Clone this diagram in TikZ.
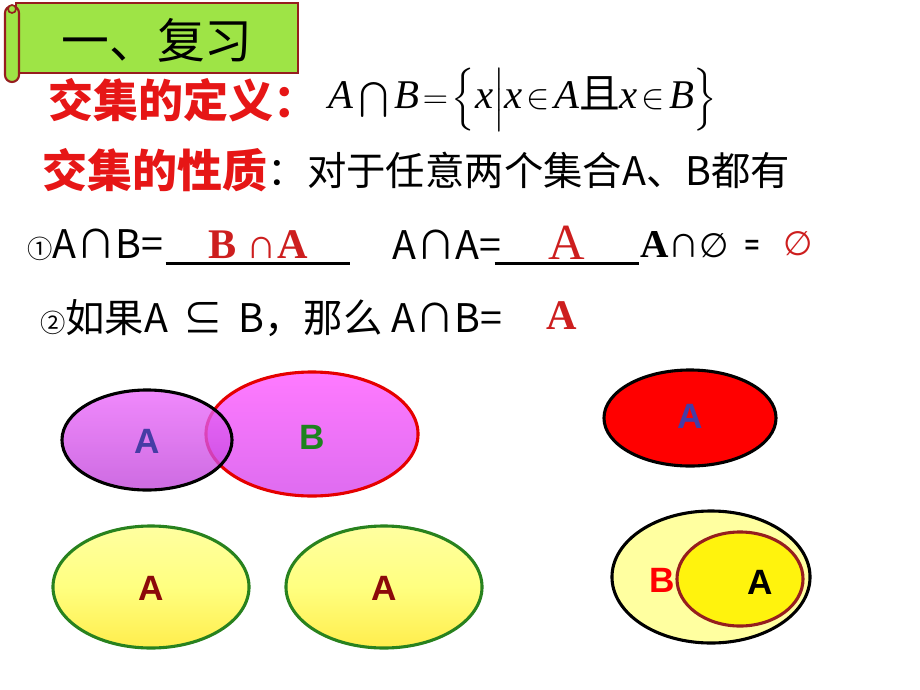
\documentclass[tikz,border=0pt]{standalone}
\usepackage{amsmath}
\usepackage{fontspec}
\setmainfont{Liberation Serif}
\newfontfamily\cjk{Noto Sans CJK SC}
\newfontfamily\arial{Liberation Sans}
\newfontfamily\dejavu{DejaVu Sans}
\usetikzlibrary{shapes.geometric,positioning}
\definecolor{scrollgreen}{RGB}{158,228,70}
\definecolor{scrollred}{RGB}{150,30,30}
\definecolor{headred}{RGB}{230,22,22}
\definecolor{ansred}{RGB}{205,30,30}
\definecolor{setblue}{RGB}{70,60,165}
\definecolor{setgreen}{RGB}{30,130,30}
\definecolor{ringgreen}{RGB}{40,130,30}
\definecolor{letterred}{RGB}{140,10,10}
\definecolor{palepink}{RGB}{255,122,255}
\definecolor{deeppink}{RGB}{222,108,240}
\definecolor{violettop}{RGB}{236,104,252}
\definecolor{violetbot}{RGB}{192,66,218}
\definecolor{paleyellow}{RGB}{255,255,160}

\begin{document}
\begin{tikzpicture}[x=0.025cm, y=-0.025cm, node distance=0pt,
    lefttext/.style={inner sep=0pt, anchor=west},
    venn/.style={ellipse, draw, line width=2.2pt, inner sep=0pt},
    vennletter/.style={font=\arial\bfseries\fontsize{25}{25}\selectfont},
    headfont/.style={font=\cjk\bfseries\fontsize{32}{32}\selectfont, text=headred},
    bodyfont/.style={font=\cjk\fontsize{28}{28}\selectfont},
    answer/.style={font=\bfseries\fontsize{30}{30}\selectfont, text=ansred}]
\fill[white] (0,0) rectangle (920,690);
\useasboundingbox (0,0) rectangle (920,690);

% scroll banner
\draw[fill=scrollgreen, draw=scrollred, line width=1.5pt] (16,3) rectangle (298,73);
\draw[fill=scrollgreen, draw=scrollred, line width=1.5pt, rounded corners=5pt] (5,6) rectangle (19,82);
\draw[draw=scrollred, line width=1.2pt, fill=scrollgreen] (12,9) circle (4);
\node[font=\cjk\fontsize{34}{34}\selectfont] (title) at (157,40) {一、复习};

% definition and properties
\node[lefttext, headfont] (defhead) at (48,100) {交集的定义：};
\node[lefttext, font=\fontsize{29}{29}\selectfont] (defmath) at (328,100)
    {\thickmuskip=2mu \medmuskip=1mu
     $\textit{A}\bigcap\textit{B}=\Bigl\{\textit{x}\Big|\textit{x}\in\textit{A}\text{\cjk 且}\textit{x}\in\textit{B}\Bigr\}$};
\node[lefttext, headfont] (prophead) at (42,170) {交集的性质};
\node[lefttext, bodyfont, right=of prophead] (proptext) {：对于任意两个集合A、B都有};

% property 1
\node[bodyfont, inner sep=0pt, anchor=east] (rule1) at (164,245) {{\fontsize{18}{18}\selectfont ①}A∩B=};
\node[answer, minimum width=4.6cm, inner sep=0pt] (blank1) at (258,245) {B ∩A};
\draw[line width=1.6pt] ([yshift=-3pt]blank1.south west) -- ([yshift=-3pt]blank1.south east);
\node[lefttext, bodyfont] (rule2) at (392,245) {A∩A=};
\node[answer, font=\fontsize{36}{36}\selectfont, minimum width=3.6cm, inner sep=0pt] (blank2) at (567,243) {A};
\draw[line width=1.6pt] (blank2.south west |- blank1.south) ++(0,-3pt) -- ++(3.6cm,0);
\node[lefttext, font=\fontsize{28}{28}\selectfont] (rule3) at (640,245)
    {\textbf{A}{\cjk\fontsize{22}{22}\selectfont ∩}{\dejavu\fontsize{24}{24}\selectfont ∅}};
\node[font=\arial\bfseries\fontsize{18}{18}\selectfont] (eq3) at (752,247) {=};
\node[font=\dejavu\fontsize{24}{24}\selectfont, text=ansred] (empty3) at (798,244) {∅};

% property 2
\node[lefttext, bodyfont] (rule4) at (40,318) {{\fontsize{18}{18}\selectfont ②}如果A\,\ ⊆\,\ B，那么 A∩B=};
\node[answer] (ans4) at (562,316) {A};

% venn diagrams
\node[venn, draw=red!90!black, top color=palepink, bottom color=deeppink,
      minimum width=5.3cm, minimum height=3.1cm] (setB) at (312,434) {};
\node[venn, top color=violettop, bottom color=violetbot, fill opacity=0.78,
      text opacity=1, minimum width=4.25cm, minimum height=2.5cm] (setA) at (147,440) {};
\node[vennletter, text=setblue] (labA) at (147,441) {A};
\node[vennletter, text=setgreen] (labB) at (312,437) {B};

\node[venn, fill=red, minimum width=4.3cm, minimum height=2.4cm] (redA) at (690,418) {};
\node[vennletter, text=setblue] (labredA) at (690,416) {A};

\node[venn, draw=ringgreen, top color=paleyellow, bottom color=yellow!80!orange!70,
      middle color=paleyellow!80!yellow, minimum width=4.9cm, minimum height=3.05cm] (selfA) at (151,587) {};
\node[vennletter, text=letterred] (labselfA) at (151,588) {A};
\node[venn, draw=ringgreen, top color=paleyellow, bottom color=yellow!80!orange!70,
      middle color=paleyellow!80!yellow, minimum width=4.9cm, minimum height=3.05cm] (selfA2) at (384,587) {};
\node[vennletter, text=letterred] (labselfA2) at (384,588) {A};

\node[venn, fill=paleyellow, minimum width=4.95cm, minimum height=3.3cm] (outerB) at (711,577) {};
\node[venn, fill=yellow!95!white, draw=scrollred, minimum width=3.15cm, minimum height=2.35cm] (innerA) at (740,579) {};
\node[vennletter, text=red] (labouterB) at (662,580) {B};
\node[vennletter, text=black] (labinnerA) at (760,582) {A};
\end{tikzpicture}
\end{document}
